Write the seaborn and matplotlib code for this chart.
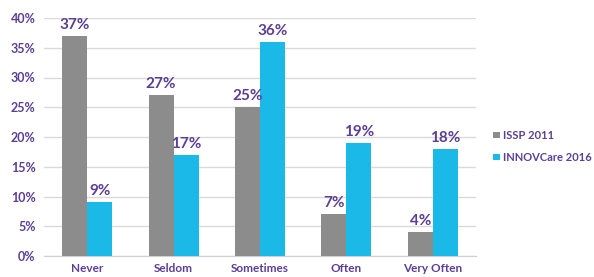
import pandas as pd
import numpy as np
import matplotlib
matplotlib.use("Agg")
import matplotlib.pyplot as plt
import seaborn as sns

categories = ["Never", "Seldom", "Sometimes", "Often", "Very Often"]
issp_2011 = [37, 27, 25, 7, 4]
innovcare_2016 = [9, 17, 36, 19, 18]
series_names = ["ISSP 2011", "INNOVCare 2016"]
y_ticks = [0, 5, 10, 15, 20, 25, 30, 35, 40]

df = pd.DataFrame({
    "Category": categories * 2,
    "Value": issp_2011 + innovcare_2016,
    "Series": [series_names[0]] * 5 + [series_names[1]] * 5,
})

sns.set_style("white")
plt.rcParams['font.family'] = ['Lato', 'DejaVu Sans']

purple = "#5B3E96"
palette = {series_names[0]: "#8C8C8C", series_names[1]: "#1BB9E8"}

fig = plt.figure(figsize=(5.94, 2.77), dpi=100)
ax = fig.add_axes([44 / 594, 21 / 277, 432 / 594, 238 / 277])

sns.barplot(data=df, x="Category", y="Value", hue="Series", palette=palette,
            width=0.58, ax=ax, saturation=1, linewidth=0, zorder=3)

for container in ax.containers:
    ax.bar_label(container, labels=[f"{v:.0f}%" for v in container.datavalues],
                 color=purple, fontsize=11, fontweight="bold", padding=3)

ax.set_ylim(0, 40)
ax.set_yticks(y_ticks)
ax.set_yticklabels([f"{t}%" for t in y_ticks], color=purple, fontsize=9, fontweight="bold")
ax.set_xlim(-0.5, 4.5)
ax.set_xticks(range(5))
ax.set_xticklabels(categories, color=purple, fontsize=8.5, fontweight="bold")
ax.set_xticks(np.arange(-0.5, 5, 1), minor=True)
ax.tick_params(axis="x", which="major", length=0, pad=5)
ax.tick_params(axis="x", which="minor", length=4, color="#D0D0D0", direction="out")
ax.tick_params(axis="y", length=0, pad=6)
ax.grid(axis="y", color="#DADADA", linewidth=1, zorder=0)
ax.set_axisbelow(True)
for s in ["top", "right", "left"]:
    ax.spines[s].set_visible(False)
ax.spines["bottom"].set_color("#D0D0D0")
ax.set_xlabel("")
ax.set_ylabel("")

leg = ax.legend(loc="center left", bbox_to_anchor=(1.03, 0.46), frameon=False,
                handlelength=0.55, handleheight=0.55, handletextpad=0.35, labelspacing=1.0,
                borderaxespad=0, prop={"size": 8, "weight": "bold"})
for t in leg.get_texts():
    t.set_color(purple)

fig.savefig("out.png", dpi=100)
